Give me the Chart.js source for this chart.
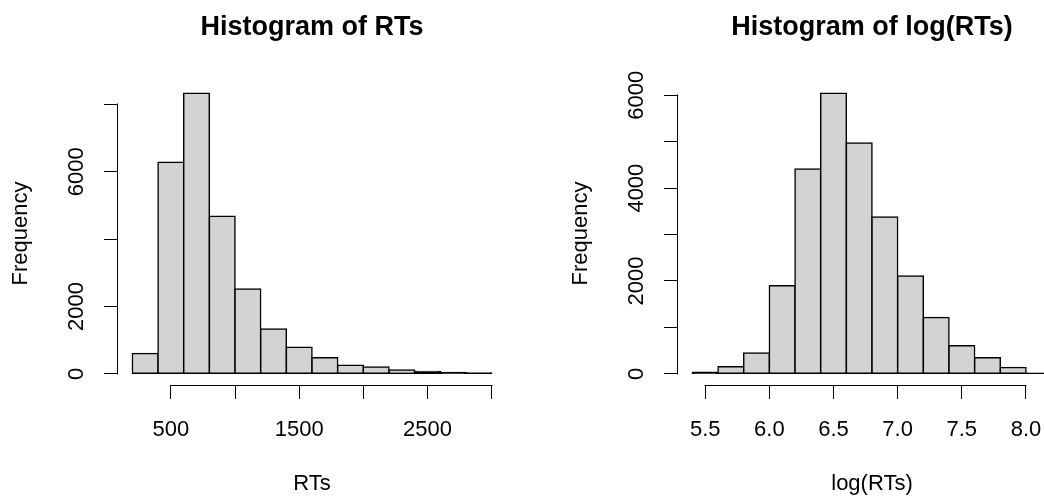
<!DOCTYPE html>
<html>
<head>
<meta charset="utf-8">
<script src="https://cdn.jsdelivr.net/npm/chart.js@4.4.0/dist/chart.umd.min.js"></script>
<style>
  body { margin: 0; background: #fff; }
  #wrap { position: relative; width: 1044px; height: 500px; overflow: hidden; }
  #wrap canvas { position: absolute; top: 0; }
</style>
</head>
<body>
<div id="wrap">
  <canvas id="rt_hist" width="560" height="500" style="left:0"></canvas>
  <canvas id="logrt_hist" width="560" height="500" style="left:560px"></canvas>
</div>
<script>
// raw RTs: bin edges and counts
var rt_breaks = [200, 400, 600, 800, 1000, 1200, 1400, 1600, 1800, 2000, 2200, 2400, 2600, 2800, 3000];
var rt_counts = [600, 6285, 8335, 4680, 2520, 1330, 785, 475, 250, 200, 110, 70, 40, 20];
var rt_x_ticks = [500, 1000, 1500, 2000, 2500, 3000];
var rt_x_labels = [500, 1500, 2500];
var rt_y_ticks = [0, 2000, 4000, 6000, 8000];
var rt_y_labels = [0, 2000, 6000];

// log RTs
var log_breaks = [5.4, 5.6, 5.8, 6.0, 6.2, 6.4, 6.6, 6.8, 7.0, 7.2, 7.4, 7.6, 7.8, 8.0, 8.2];
var log_counts = [35, 150, 450, 1895, 4410, 6045, 4975, 3380, 2105, 1215, 605, 345, 135, 12];
var log_x_ticks = [5.5, 6.0, 6.5, 7.0, 7.5, 8.0];
var log_x_labels = [5.5, 6.0, 6.5, 7.0, 7.5, 8.0];
var log_y_ticks = [0, 1000, 2000, 3000, 4000, 5000, 6000];
var log_y_labels = [0, 2000, 4000, 6000];

var FONT = '"Liberation Sans", Arial, Helvetica, sans-serif';
var BAR_LINE = 1.5;

// R style axis: line only from first to last tick
var r_axis_lines = {
	id: 'r_axis_lines',
	afterDraw: function(chart)
	{
		var ctx = chart.ctx;
		var xs = chart.scales.x, ys = chart.scales.y;
		var xa = xs.getPixelForValue(xs.ticks[0].value);
		var xb = xs.getPixelForValue(xs.ticks[xs.ticks.length - 1].value);
		var ya = ys.getPixelForValue(ys.ticks[0].value);
		var yb = ys.getPixelForValue(ys.ticks[ys.ticks.length - 1].value);
		var xline = Math.round(xs.top) + 0.5;
		var yline = Math.round(ys.right) - 0.5;
		ctx.save();
		ctx.strokeStyle = '#000';
		ctx.lineWidth = 1;
		ctx.beginPath();
		ctx.moveTo(Math.round(xa) - 0.5, xline);
		ctx.lineTo(Math.round(xb) + 0.5, xline);
		ctx.moveTo(yline, Math.round(ya) + 0.5);
		ctx.lineTo(yline, Math.round(yb) - 0.5);
		ctx.stroke();
		ctx.restore();
	}
};

// a bar not much taller than its outline shows only the outline
function bar_fill(c)
{
	var ys = c.chart.scales.y;
	if(!ys || !c.raw) return '#D3D3D3';
	var h = ys.getPixelForValue(0) - ys.getPixelForValue(c.raw.y);
	return h < 2 * BAR_LINE ? '#000' : '#D3D3D3';
}

function wcds_make_hist(canvas_id, breaks, counts, x_ticks, x_labels, y_ticks, y_labels, title, x_title, x_fmt)
{
	var points = [];
	for(var i = 0; i < counts.length; i++)
		points.push({x: (breaks[i] + breaks[i + 1]) / 2, y: counts[i]});

	// hist() plot region: data range widened by 4% on each side
	var lo = breaks[0], hi = breaks[breaks.length - 1];
	var xpad = (hi - lo) * 0.04;
	var ymax = Math.max.apply(null, counts);

	var tick_font = {family: FONT, size: 22};

	var ctx = document.getElementById(canvas_id).getContext('2d');
	return new Chart(ctx, {
		type: 'bar',
		data: {
			datasets: [{
				data: points,
				backgroundColor: bar_fill,
				borderColor: '#000',
				borderWidth: BAR_LINE,
				borderSkipped: false,
				inflateAmount: BAR_LINE / 2,
				barPercentage: 1,
				categoryPercentage: 1
			}]
		},
		plugins: [r_axis_lines],
		options: {
			responsive: false,
			devicePixelRatio: 1,
			animation: false,
			layout: {padding: {left: 0, right: 54, top: 0, bottom: 0}},
			plugins: {
				legend: {display: false},
				tooltip: {enabled: false},
				title: {
					display: true,
					text: title,
					fullSize: false,
					color: '#000',
					font: {family: FONT, size: 27, weight: 'bold', lineHeight: 1.2},
					padding: {top: 11, bottom: 82 - 11 - 27 * 1.2}
				}
			},
			scales: {
				x: {
					type: 'linear',
					position: 'bottom',
					offset: false,
					min: lo - xpad,
					max: hi + xpad,
					afterBuildTicks: function(scale) { scale.ticks = x_ticks.map(function(v) { return {value: v}; }); },
					afterFit: function(scale) { scale.height = 115; },
					border: {display: false},
					grid: {offset: false, drawOnChartArea: false, drawTicks: true, tickLength: 14, color: '#000', lineWidth: 1},
					ticks: {
						autoSkip: false,
						maxRotation: 0,
						padding: 18,
						color: '#000',
						font: tick_font,
						callback: function(v) { return x_labels.indexOf(v) >= 0 ? x_fmt(v) : ''; }
					},
					title: {display: true, text: x_title, color: '#000', font: {family: FONT, size: 22, lineHeight: 1.2}, padding: {top: 0, bottom: 3}}
				},
				y: {
					type: 'linear',
					position: 'left',
					min: -ymax * 0.04,
					max: ymax * 1.04,
					afterBuildTicks: function(scale) { scale.ticks = y_ticks.map(function(v) { return {value: v}; }); },
					afterFit: function(scale) { scale.width = 118; },
					border: {display: false},
					grid: {drawOnChartArea: false, drawTicks: true, tickLength: 14, color: '#000', lineWidth: 1},
					ticks: {
						autoSkip: false,
						minRotation: 90,
						maxRotation: 90,
						crossAlign: 'center',
						padding: 3,
						color: '#000',
						font: tick_font,
						callback: function(v) { return y_labels.indexOf(v) >= 0 ? String(v) : ''; }
					},
					title: {display: true, text: 'Frequency', color: '#000', font: {family: FONT, size: 22, lineHeight: 1.2}, padding: {top: 8, bottom: 0}}
				}
			}
		}
	});
}

wcds_make_hist('rt_hist', rt_breaks, rt_counts, rt_x_ticks, rt_x_labels, rt_y_ticks, rt_y_labels,
	'Histogram of RTs', 'RTs', function(v) { return String(v); });
wcds_make_hist('logrt_hist', log_breaks, log_counts, log_x_ticks, log_x_labels, log_y_ticks, log_y_labels,
	'Histogram of log(RTs)', 'log(RTs)', function(v) { return v.toFixed(1); });
</script>
</body>
</html>
